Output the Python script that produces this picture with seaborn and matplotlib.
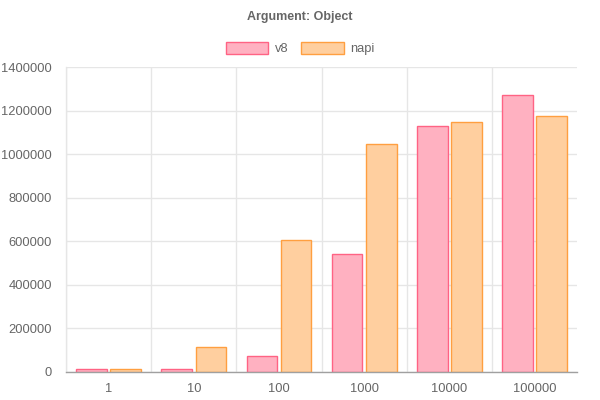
import matplotlib
matplotlib.use("Agg")
import matplotlib.pyplot as plt
import seaborn as sns
import pandas as pd
import numpy as np
from matplotlib.patches import Patch

categories = ["1", "10", "100", "1000", "10000", "100000"]
v8 = [14000, 14000, 73000, 542000, 1129000, 1271000]
napi = [13000, 115000, 606000, 1046000, 1148000, 1175000]

df = pd.DataFrame({
    "size": categories * 2,
    "ops": v8 + napi,
    "impl": ["v8"] * len(categories) + ["napi"] * len(categories),
})

fill = {"v8": (1.0, 0.694, 0.757), "napi": (1.0, 0.812, 0.624)}
edge = {"v8": (1.0, 0.388, 0.518), "napi": (1.0, 0.624, 0.251)}

sns.set_style("white")
plt.rcParams["font.family"] = ["Liberation Sans", "DejaVu Sans"]

fig = plt.figure(figsize=(6, 4), dpi=100)
ax = fig.add_axes([0.11, 0.07, 0.852, 0.7625])

sns.barplot(data=df, x="size", y="ops", hue="impl", order=categories,
            hue_order=["v8", "napi"], palette=fill, gap=0.1, width=0.8,
            saturation=1, legend=False, ax=ax, linewidth=1)
for i, p in enumerate(ax.patches):
    p.set_edgecolor(edge["v8"] if i < len(categories) else edge["napi"])

ax.set_xlim(-0.5, 5.5)
ax.set_ylim(0, 1400000)
ax.set_yticks(np.arange(0, 1400001, 200000))
ax.set_yticklabels([str(v) for v in range(0, 1400001, 200000)])
ax.set_xlabel("")
ax.set_ylabel("")

grid_c = "#e6e6e6"
ax.set_xticks(np.arange(-0.5, 5.0, 1.0), minor=True)
ax.tick_params(axis="x", which="major", length=0, pad=8, labelsize=9.3, labelcolor="#666666")
ax.tick_params(axis="x", which="minor", length=8, color=grid_c, width=1)
ax.tick_params(axis="y", length=8, color=grid_c, width=1, pad=2, labelsize=9.3, labelcolor="#666666")
ax.grid(which="minor", axis="x", color=grid_c, linewidth=1)
ax.grid(which="major", axis="y", color=grid_c, linewidth=1)
ax.set_axisbelow(True)

for s in ["top", "right"]:
    ax.spines[s].set_visible(False)
ax.spines["left"].set_color(grid_c)
ax.spines["left"].set_linewidth(1)
ax.spines["bottom"].set_color("#a0a0a0")
ax.spines["bottom"].set_linewidth(1)

handles = [Patch(facecolor=fill[k], edgecolor=edge[k], linewidth=1, label=k) for k in ["v8", "napi"]]
fig.legend(handles=handles, loc="center", bbox_to_anchor=(0.5, 0.878), ncol=2, frameon=False,
           handlelength=3.3, handleheight=1.0, handletextpad=0.5, columnspacing=1.0,
           fontsize=9.3, labelcolor="#666666")

fig.text(0.5, 0.958, "Argument: Object", ha="center", va="center", fontsize=9,
         fontweight="bold", color="#666666")

fig.savefig("out.png", dpi=100)
